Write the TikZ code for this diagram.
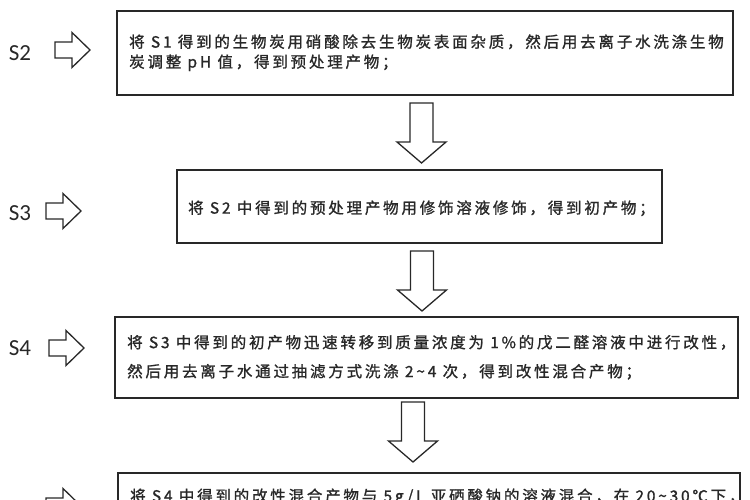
\documentclass[tikz,border=0pt]{standalone}
\usepackage{fontspec}
\setmainfont{Carlito}
\newfontfamily\cjk[LetterSpace=18, FakeBold=1.2]{Noto Sans CJK SC}
\usetikzlibrary{positioning}
\definecolor{inkgray}{RGB}{40,40,40}
\tikzset{
	stepbox/.style={draw=inkgray, line width=1.6pt, anchor=north west},
	steptext/.style={anchor=west, align=left, inner sep=0pt, text=inkgray, font=\cjk\fontsize{15.5}{20}\selectfont},
	steplabel/.style={text=inkgray, inner sep=0pt, font=\fontsize{23}{23}\selectfont},
	blockline/.style={draw=inkgray, line width=1.3pt, fill=white, line join=miter},
	rightblock/.pic={\draw[blockline] (0,-8) -- (17,-8) -- (17,-17.5) -- (35,0) -- (17,17.5) -- (17,8) -- (0,8) -- cycle;},
	downblock/.pic={\draw[blockline] (-11.5,0) -- (11.5,0) -- (11.5,39) -- (24.5,39) -- (0,60) -- (-24.5,39) -- (-11.5,39) -- cycle;},
}
\begin{document}
\begin{tikzpicture}[x=1pt, y=-1pt]
    \useasboundingbox (0,0) rectangle (750,500);
    \clip (0,0) rectangle (750,500);
    \fill[white] (0,0) rectangle (750,500);

    % step labels and side arrows
    \node[steplabel] (lab2) at (20,53) {S2};
    \node[steplabel] (lab3) at (20,213) {S3};
    \node[steplabel] (lab4) at (20,348) {S4};
    \pic at (55,50) {rightblock};
    \pic at (46,211) {rightblock};
    \pic at (49,348) {rightblock};
    \pic at (46,506) {rightblock};

    % boxes
    \node[stepbox, minimum width=616pt, minimum height=84pt] (box2) at (116,10) {};
    \node[stepbox, minimum width=485pt, minimum height=73pt] (box3) at (176,169) {};
    \node[stepbox, minimum width=623pt, minimum height=81pt] (box4) at (114,316) {};
    \node[stepbox, minimum width=622pt, minimum height=84pt] (box5) at (117,472) {};

    \node[steptext] (txt2) at ([xshift=13pt]box2.west)
        {将 S1 得到的生物炭用硝酸除去生物炭表面杂质，然后用去离子水洗涤生物\\炭调整 pH 值，得到预处理产物；};
    \node[steptext] (txt3) at ([xshift=12pt, yshift=-2pt]box3.west)
        {将 S2 中得到的预处理产物用修饰溶液修饰，得到初产物；};
    \node[steptext, font=\cjk\fontsize{15.5}{29}\selectfont] (txt4) at ([xshift=13pt]box4.west)
        {将 S3 中得到的初产物迅速转移到质量浓度为 1\%的戊二醛溶液中进行改性，\\然后用去离子水通过抽滤方式洗涤 2\textasciitilde4 次，得到改性混合产物；};
    \node[steptext] (txt5) at (130,497)
        {将 S4 中得到的改性混合产物与 5g/L 亚硒酸钠的溶液混合，在 20\textasciitilde30℃下，};

    % arrows between boxes
    \coordinate (a23) at (421.5,103);
    \coordinate (a34) at (422,251);
    \coordinate (a45) at (413,402);
    \pic at (a23) {downblock};
    \pic at (a34) {downblock};
    \pic at (a45) {downblock};
\end{tikzpicture}
\end{document}
